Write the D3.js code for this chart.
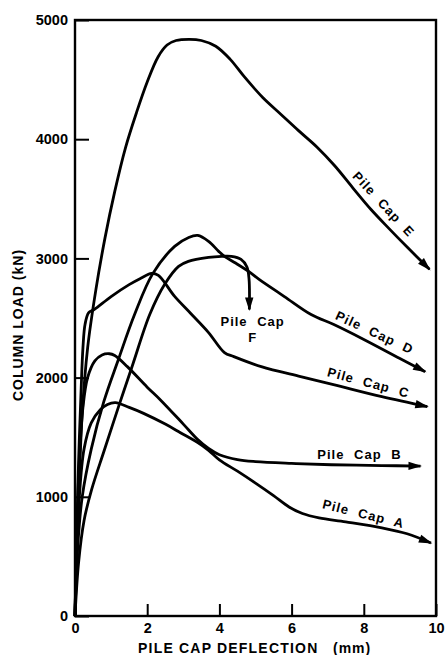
<!DOCTYPE html>
<html><head><meta charset="utf-8">
<script src="https://cdn.jsdelivr.net/npm/d3@7"></script>
<style>
body{margin:0;background:#fff;}
svg{display:block;}
text{font-family:"Liberation Sans",Arial,Helvetica,sans-serif;font-weight:bold;fill:#000;}
</style>
</head><body>
<svg id="c" width="447" height="655"></svg>
<script>
// ---- data (deflection mm, load kN) ----
const xTicks = [0, 2, 4, 6, 8, 10];
const yTicks = [0, 1000, 2000, 3000, 4000, 5000];
const xTitle = "PILE CAP DEFLECTION";
const xUnit = "(mm)";
const yTitle = "COLUMN LOAD  (kN)";

const pileCapA = [[0,0],[0.05,500],[0.12,1000],[0.25,1400],[0.45,1620],[0.7,1730],[0.9,1775],[1.12,1790],
  [1.5,1750],[1.9,1700],[2.5,1610],[2.92,1538],[3.4,1455],[3.7,1390],[4.0,1310],[4.5,1215],[5.0,1115],
  [5.5,1010],[5.93,915],[6.3,860],[6.76,823],[7.5,790],[8.5,740],[9.2,690],[9.86,613]];
const pileCapB = [[0,0],[0.05,700],[0.12,1300],[0.22,1750],[0.35,2000],[0.55,2140],[0.75,2190],[0.95,2200],
  [1.1,2185],[1.45,2092],[2.0,1920],[2.36,1815],[3.0,1610],[3.4,1480],[3.7,1405],[4.0,1353],[4.5,1312],
  [5.0,1295],[6.0,1280],[7.1,1269],[8.5,1262],[9.57,1258]];
const pileCapC = [[0,0],[0.05,700],[0.1,1300],[0.17,1900],[0.22,2250],[0.28,2450],[0.38,2545],[0.53,2571],
  [1.0,2680],[1.5,2780],[1.8,2830],[2.12,2874],[2.31,2857],[2.76,2681],[3.2,2540],[3.7,2378],[4.14,2210],
  [4.4,2176],[5.16,2092],[6.25,2008],[7.16,1941],[8.5,1840],[9.76,1756]];
const pileCapD = [[0,0],[0.08,600],[0.2,1000],[0.45,1400],[0.8,1800],[1.2,2150],[1.65,2529],[2.15,2870],
  [2.76,3101],[3.15,3176],[3.4,3193],[3.7,3143],[3.98,3059],[4.14,3017],[4.42,2966],[4.81,2891],[5.1,2824],
  [5.8,2680],[6.54,2529],[7.17,2445],[8.0,2320],[9.0,2160],[9.7,2050]];
const pileCapE = [[0,0],[0.04,500],[0.1,1000],[0.2,1700],[0.35,2250],[0.58,2740],[0.83,3170],[1.1,3560],
  [1.4,3930],[1.7,4220],[2.0,4480],[2.3,4690],[2.55,4790],[2.8,4828],[3.17,4838],[3.5,4828],[3.9,4780],
  [4.3,4670],[4.7,4520],[5.2,4350],[5.7,4210],[6.2,4070],[6.7,3935],[7.2,3775],[7.7,3590],[8.2,3410],
  [8.7,3250],[9.2,3095],[9.82,2908]];
const pileCapF = [[0,0],[0.1,450],[0.25,800],[0.46,1060],[0.8,1380],[1.2,1750],[1.6,2110],[2.07,2529],
  [2.48,2781],[2.87,2933],[3.14,2975],[3.7,3008],[4.06,3017],[4.33,3017],[4.6,2992],[4.76,2930],
  [4.82,2830],[4.83,2571]];

const series = [pileCapA, pileCapB, pileCapC, pileCapD, pileCapE, pileCapF];

// label annotations (text, anchor in data units, rotation)
const labelText = ["Pile Cap A","Pile Cap B","Pile Cap C","Pile Cap D","Pile Cap E","Pile Cap","F"];
const labelAt = [[7.99,857],[7.88,1353],[8.13,1958],[8.3,2378],[8.55,3454],[4.92,2470],[4.92,2336]];
const labelRot = [14,0,15,25,47,0,0];

// ---- drawing ----
const svg = d3.select("#c");
const x = d3.scaleLinear().domain([0,10]).range([75,436]);
const y = d3.scaleLinear().domain([0,5000]).range([616,20]);

// ticks
const gy = svg.append("g").attr("transform",`translate(${x(0)},0)`)
  .call(d3.axisLeft(y).tickValues(yTicks).tickSize(-14).tickPadding(7).tickFormat(d3.format("d")));
const gx = svg.append("g").attr("transform",`translate(0,${y(0)})`)
  .call(d3.axisBottom(x).tickValues(xTicks).tickSize(-12).tickPadding(7).tickFormat(d3.format("d")));
[gy,gx].forEach(g=>{
  g.select(".domain").remove();
  g.selectAll(".tick line").attr("stroke","#000").attr("stroke-width",2);
  g.selectAll(".tick text").style("font-size","14.5px").style("font-weight","bold")
    .style("font-family","'Liberation Sans',Arial,sans-serif").attr("fill","#000");
});

// frame
svg.append("rect").attr("x",x(0)).attr("y",y(5000))
  .attr("width",x(10)-x(0)).attr("height",y(0)-y(5000))
  .attr("fill","none").attr("stroke","#000").attr("stroke-width",2.4);

// curves
const line = d3.line().x(d=>x(d[0])).y(d=>y(d[1])).curve(d3.curveCatmullRom.alpha(0.5));
const gc = svg.append("g");
series.forEach((s,i)=>{
  gc.append("path").attr("d",line(s)).attr("fill","none").attr("stroke","#000")
    .attr("stroke-width",2.8).attr("stroke-linejoin","round");
  // arrowhead at end
  const p1=[x(s[s.length-1][0]),y(s[s.length-1][1])];
  const p0=[x(s[s.length-2][0]),y(s[s.length-2][1])];
  let dx=p1[0]-p0[0], dy=p1[1]-p0[1]; const L=Math.hypot(dx,dy); dx/=L; dy/=L;
  const len=12, w=4.2;
  const bx=p1[0]-dx*len, by=p1[1]-dy*len;
  const tip=[p1[0]+dx*1.5,p1[1]+dy*1.5];
  gc.append("path").attr("d",`M${tip[0]},${tip[1]}L${bx-dy*w},${by+dx*w}L${bx+dy*w},${by-dx*w}Z`)
    .attr("fill","#000");
});

// labels
labelText.forEach((t,i)=>{
  const px=x(labelAt[i][0]), py=y(labelAt[i][1]);
  svg.append("text").text(t)
    .attr("transform",`translate(${px},${py}) rotate(${labelRot[i]})`)
    .attr("text-anchor","middle").attr("dominant-baseline","central")
    .style("font-size","13px").style("letter-spacing","1px").style("word-spacing","5px");
});

// axis titles
svg.append("text").text(xTitle).attr("x",138).attr("y",653)
  .style("font-size","14px").style("letter-spacing","1.2px");
svg.append("text").text(xUnit).attr("x",333).attr("y",653)
  .style("font-size","14px").style("letter-spacing","1px");
svg.append("text").text(yTitle)
  .attr("transform","translate(23,325) rotate(-90)")
  .attr("text-anchor","middle")
  .style("font-size","14px").style("letter-spacing","1px");
</script>
</body></html>
